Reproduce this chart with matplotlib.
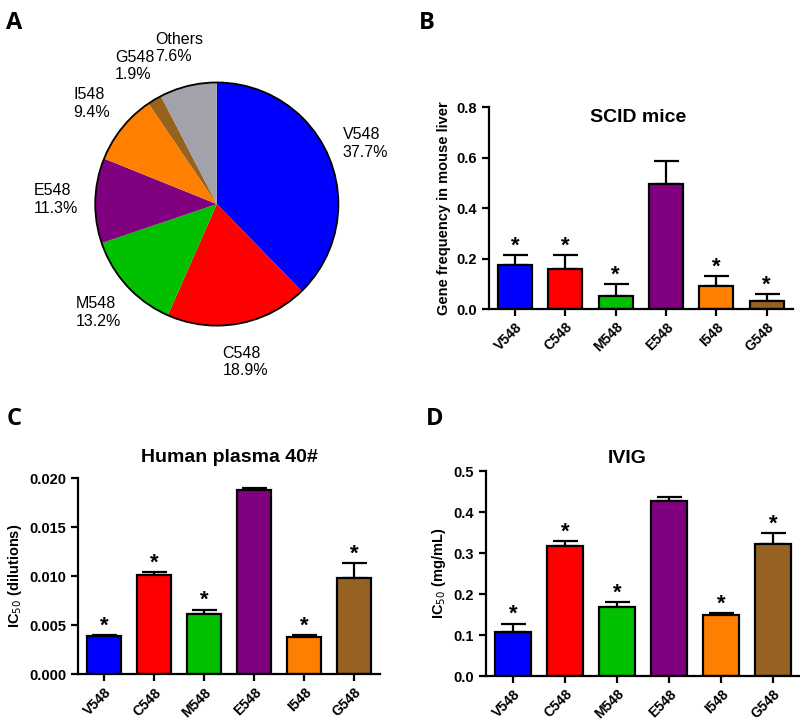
import matplotlib
matplotlib.use("Agg")
import matplotlib.pyplot as plt
import numpy as np

plt.rcParams['font.family'] = ['Liberation Sans', 'DejaVu Sans']

# --- data ---
pie_labels = ['V548', 'C548', 'M548', 'E548', 'I548', 'G548', 'Others']
pie_pct = [37.7, 18.9, 13.2, 11.3, 9.4, 1.9, 7.6]
pie_colors = ['#0000FF', '#FF0000', '#00C000', '#800080', '#FF8000', '#98621E', '#A2A2AA']

groups = ['V548', 'C548', 'M548', 'E548', 'I548', 'G548']
bar_colors = ['#0000FF', '#FF0000', '#00C000', '#800080', '#FF8000', '#966222']

scid_mean = [0.174, 0.158, 0.051, 0.497, 0.091, 0.032]
scid_err = [0.040, 0.056, 0.047, 0.088, 0.040, 0.028]
scid_star = [True, True, True, False, True, True]

plasma_mean = [0.0039, 0.0101, 0.0061, 0.0188, 0.0038, 0.0098]
plasma_err = [0.0001, 0.0003, 0.0005, 0.0002, 0.0002, 0.0015]
plasma_star = [True, True, True, False, True, True]

ivig_mean = [0.108, 0.318, 0.168, 0.428, 0.150, 0.321]
ivig_err = [0.020, 0.011, 0.012, 0.009, 0.004, 0.027]
ivig_star = [True, True, True, False, True, True]

fig = plt.figure(figsize=(8, 7.21), dpi=100)

# --- A: pie ---
axA = fig.add_axes([0.116, 0.545, 0.31, 0.344])
wedges, texts = axA.pie(pie_pct, colors=pie_colors, startangle=90, counterclock=False,
                        labels=[f'{l}\n{p}%' for l, p in zip(pie_labels, pie_pct)],
                        labeldistance=1.32, wedgeprops=dict(linewidth=0),
                        textprops=dict(fontsize=11.5))
for t in texts:
    t.set_ha('center')
    t.set_va('center')
    t.set_multialignment('left')
axA.add_patch(plt.Circle((0, 0), 1, fill=False, edgecolor='black', linewidth=1.3))
axA.set_xlim(-1.02, 1.02)
axA.set_ylim(-1.02, 1.02)
axA.set_aspect('auto')


def bar_panel(rect, means, errs, stars, ylim, yticks, fmt, ylabel, title, title_inside=False):
    ax = fig.add_axes(rect)
    x = np.arange(len(groups))
    ax.bar(x, means, width=0.68, color=bar_colors, edgecolor='black', linewidth=1.6, zorder=2)
    ax.errorbar(x, means, yerr=[np.zeros(len(means)), errs], fmt='none', ecolor='black',
                elinewidth=1.6, capsize=9, capthick=1.6, zorder=1)
    for xi, m, e, s in zip(x, means, errs, stars):
        if s:
            ax.annotate('*', (xi, m + e), xytext=(0, -1), textcoords='offset points',
                        ha='center', va='bottom', fontsize=16, fontweight='bold')
    ax.set_xlim(-0.52, 5.52)
    ax.set_ylim(*ylim)
    ax.set_yticks(yticks)
    ax.set_yticklabels([fmt.format(v) for v in yticks], fontsize=10.5, fontweight='bold')
    ax.set_xticks(x)
    ax.set_xticklabels(groups, rotation=45, ha='right', rotation_mode='anchor',
                       fontsize=10, fontweight='bold')
    ax.spines['top'].set_visible(False)
    ax.spines['right'].set_visible(False)
    ax.spines['left'].set_linewidth(1.6)
    ax.spines['bottom'].set_linewidth(1.6)
    ax.tick_params(width=1.6, length=5)
    ax.tick_params(axis='x', pad=3)
    ax.set_ylabel(ylabel, fontsize=10.5, fontweight='bold')
    if title_inside:
        ax.text(0.49, 0.95, title, transform=ax.transAxes, ha='center', va='center',
                fontsize=14, fontweight='bold')
    else:
        ax.set_title(title, fontsize=14, fontweight='bold', pad=12)
    return ax


bar_panel([0.611, 0.5714, 0.38, 0.280], scid_mean, scid_err, scid_star, (0, 0.8),
          [0, 0.2, 0.4, 0.6, 0.8], '{:.1f}', 'Gene frequency in mouse liver', 'SCID mice',
          title_inside=True)
bar_panel([0.0975, 0.0648, 0.3775, 0.272], plasma_mean, plasma_err, plasma_star, (0, 0.020),
          [0, 0.005, 0.010, 0.015, 0.020], '{:.3f}', 'IC$_{50}$ (dilutions)', 'Human plasma 40#')
axD = bar_panel([0.6075, 0.0624, 0.3925, 0.2843], ivig_mean, ivig_err, ivig_star, (0, 0.5),
                [0, 0.1, 0.2, 0.3, 0.4, 0.5], '{:.1f}', 'IC$_{50}$ (mg/mL)', 'IVIG')
axD.set_title('IVIG', fontsize=14, fontweight='bold', pad=6, x=0.45)

for letter, x, y in [('A', 0.008, 0.985), ('B', 0.524, 0.985), ('C', 0.008, 0.435), ('D', 0.532, 0.435)]:
    fig.text(x, y, letter, fontsize=17, fontweight='bold', family=['Open Sans', 'DejaVu Sans'],
             ha='left', va='top')

fig.savefig('out.png', dpi=100, facecolor='white')
